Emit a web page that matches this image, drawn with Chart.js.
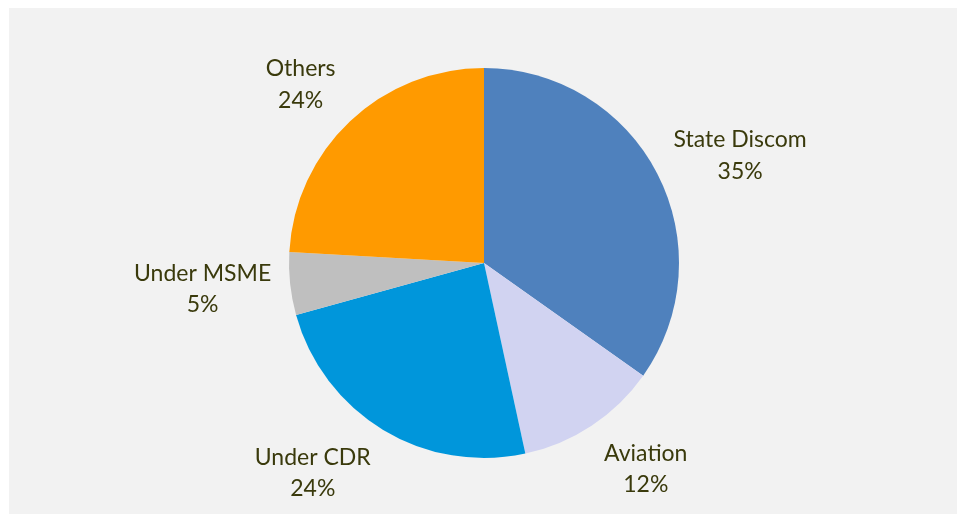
<!DOCTYPE html>
<html>
<head>
<meta charset="utf-8">
<script src="https://cdn.jsdelivr.net/npm/chart.js@4/dist/chart.umd.min.js"></script>
<style>
  html, body { margin: 0; padding: 0; background: #ffffff; }
  #wrap { position: relative; width: 965px; height: 514px; overflow: hidden; }
  #panel { position: absolute; left: 9px; top: 8px; width: 948px; height: 506px; background: #f2f2f2; }
  #c { position: absolute; left: 0; top: 0; }
</style>
</head>
<body>
<div id="wrap">
  <div id="panel"></div>
  <canvas id="c" width="965" height="514"></canvas>
</div>
<script>
const categories = ["State Discom", "Aviation", "Under CDR", "Under MSME", "Others"];
// slice sizes (labels show rounded percentages)
const shares = [34.8, 11.8, 24.1, 5.2, 24.1];
const shareLabels = ["35%", "12%", "24%", "5%", "24%"];
const sliceColors = ["#4f81bd", "#d1d3f1", "#0096db", "#bfbfbf", "#ff9a00"];

// label placement: distance as a fraction of the outer radius, and angle nudge (degrees) from slice mid-angle
const labelPlacement = {
  "State Discom": { k: 1.411, da: 5.96 },
  "Aviation":     { k: 1.372, da: -3.72 },
  "Under CDR":    { k: 1.418, da: 7.12 },
  "Under MSME":   { k: 1.453, da: -0.63 },
  "Others":       { k: 1.287, da: -3.56 }
};

const outsideLabels = {
  id: 'outsideLabels',
  afterDatasetsDraw(chart) {
    const ctx = chart.ctx;
    const meta = chart.getDatasetMeta(0);
    ctx.save();
    ctx.fillStyle = '#3a3a0c';
    ctx.font = '23px Lato, "Open Sans", sans-serif';
    ctx.textAlign = 'center';
    ctx.textBaseline = 'alphabetic';
    meta.data.forEach((arc, i) => {
      const p = arc.getProps(['x', 'y', 'startAngle', 'endAngle', 'outerRadius'], true);
      const name = categories[i];
      const pl = labelPlacement[name];
      const mid = (p.startAngle + p.endAngle) / 2 + pl.da * Math.PI / 180;
      const d = p.outerRadius * pl.k;
      const lx = p.x + Math.cos(mid) * d;
      const ly = p.y + Math.sin(mid) * d;
      ctx.fillText(name, lx, ly - 15.5);
      ctx.fillText(shareLabels[i], lx, ly + 16);
    });
    ctx.restore();
  }
};

new Chart(document.getElementById('c'), {
  type: 'pie',
  data: {
    labels: categories,
    datasets: [{
      data: shares,
      backgroundColor: sliceColors,
      borderWidth: 0
    }]
  },
  options: {
    responsive: false,
    animation: false,
    layout: { padding: { top: 68, bottom: 56, left: 289, right: 286 } },
    plugins: {
      legend: { display: false },
      tooltip: { enabled: false }
    }
  },
  plugins: [outsideLabels]
});
</script>
</body>
</html>
